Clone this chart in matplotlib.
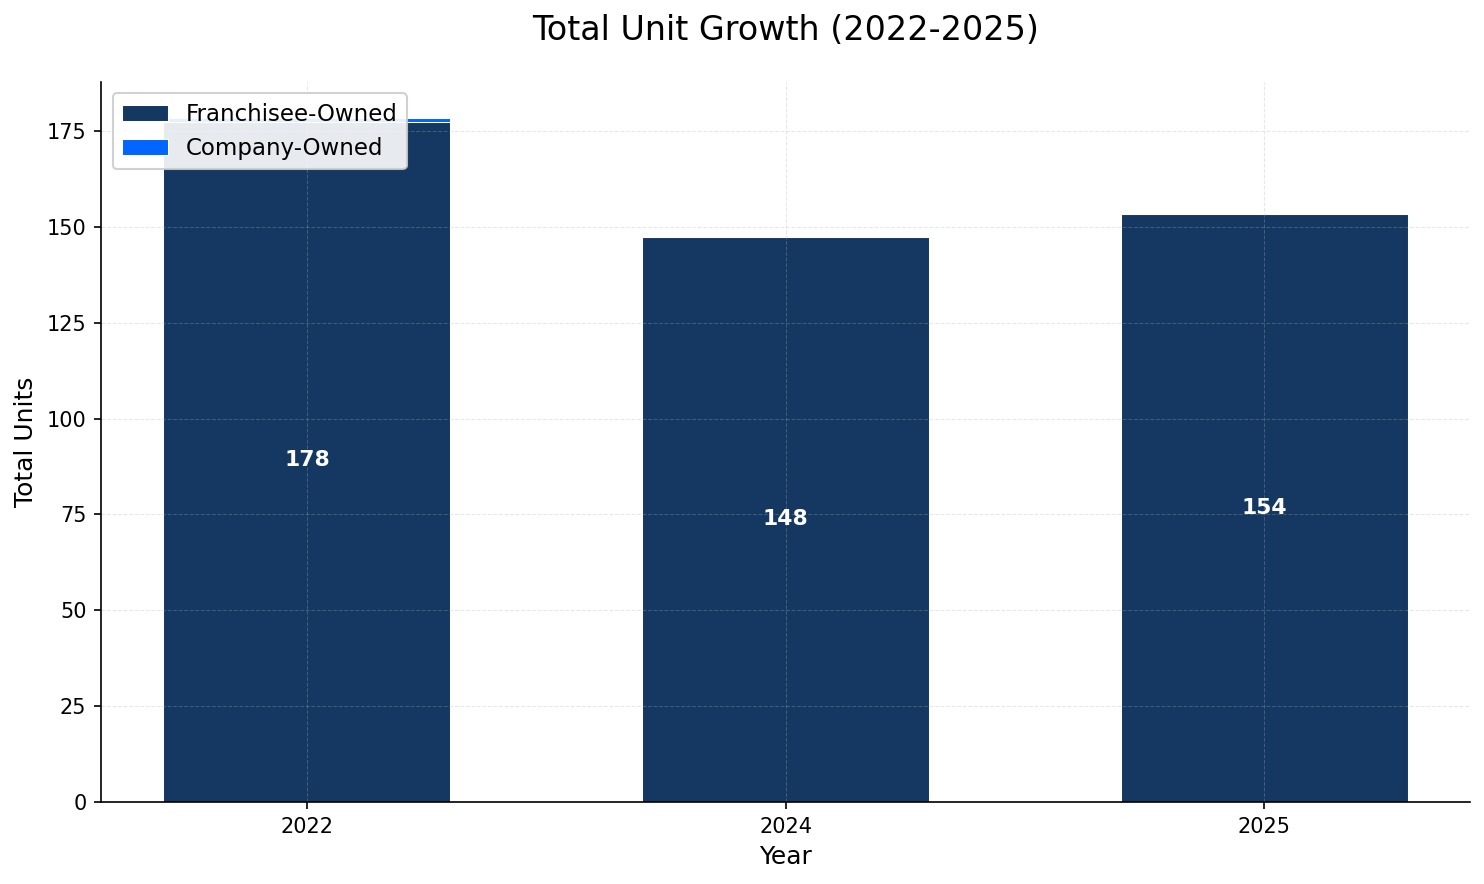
import numpy as np
import matplotlib
matplotlib.use("Agg")
import matplotlib.pyplot as plt

# data
years = ['2022', '2024', '2025']
franchisee_owned = [177.5, 147.5, 153.5]
company_owned = [0.8, 0, 0]

navy = '#143861'
bright_blue = '#0066ff'

fig = plt.figure(figsize=(1484 / 150, 884 / 150), dpi=150)
ax = fig.add_axes([0.0681, 0.0928, 0.9225, 0.8144])

x = np.arange(len(years))
w = 0.6
ax.bar(x, franchisee_owned, w, color=navy, edgecolor='white', linewidth=0.5,
       label='Franchisee-Owned')
ax.bar(x, company_owned, w, bottom=franchisee_owned, color=bright_blue,
       edgecolor='white', linewidth=0.5, label='Company-Owned')

totals = np.array(franchisee_owned) + np.array(company_owned)
for xi, t in zip(x, totals):
    ax.text(xi, t / 2, f'{t:.0f}', ha='center', va='center', color='white',
            fontsize=10.5, fontweight='bold')

ax.set_xticks(x)
ax.set_xticklabels(years)
ax.set_ylim(0, 187.8)
ax.set_title('Total Unit Growth (2022-2025)', fontsize=16, pad=20)
ax.set_xlabel('Year', fontsize=12)
ax.set_ylabel('Total Units', fontsize=12)
ax.grid(True, linestyle='--', linewidth=0.5, alpha=0.3)
ax.spines['top'].set_visible(False)
ax.spines['right'].set_visible(False)
ax.legend(loc='upper left', fontsize=11, framealpha=0.9)

fig.savefig('out.png', dpi=150)
